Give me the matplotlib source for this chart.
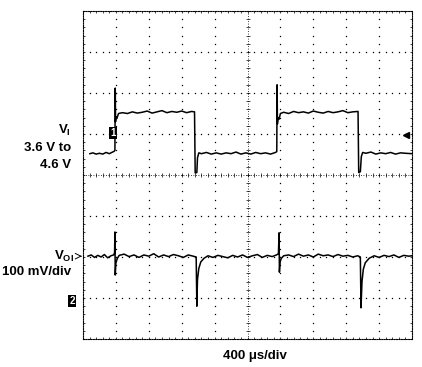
import numpy as np
import matplotlib
matplotlib.use('Agg')
from matplotlib import pyplot as plt

plt.rcParams['font.family'] = ['Liberation Sans', 'DejaVu Sans']
plt.rcParams['mathtext.fontset'] = 'custom'
plt.rcParams['mathtext.bf'] = 'Liberation Sans:bold'
plt.rcParams['mathtext.rm'] = 'Liberation Sans:bold'

# scope traces, x in divisions (400 us/div), y in divisions (0 = bottom, 8 = top)
vi_t = [0.21, 0.30, 0.40, 0.50, 0.60, 0.70, 0.80, 0.90, 0.95, 0.97, 0.98, 0.99, 1.00, 1.03,
        1.08, 1.20, 1.35, 1.50, 1.65, 1.80, 1.95, 2.10, 2.25, 2.40, 2.55, 2.70, 2.85, 3.00,
        3.15, 3.30, 3.39, 3.41, 3.46, 3.48, 3.52, 3.60, 3.75, 3.90, 4.05, 4.20, 4.35, 4.50,
        4.65, 4.80, 4.95, 5.10, 5.25, 5.40, 5.55, 5.70, 5.85, 5.89, 5.90, 5.91, 5.93, 5.96,
        6.00, 6.10, 6.25, 6.40, 6.55, 6.70, 6.85, 7.00, 7.15, 7.30, 7.45, 7.60, 7.75, 7.90,
        8.05, 8.20, 8.36, 8.38, 8.43, 8.46, 8.50, 8.60, 8.75, 8.90, 9.05, 9.20, 9.35, 9.50,
        9.65, 9.80, 10.0]
vi_v = [4.52, 4.54, 4.51, 4.53, 4.51, 4.55, 4.52, 4.56, 4.58, 4.60, 6.12, 5.30, 5.42, 5.38,
        5.50, 5.52, 5.50, 5.54, 5.51, 5.53, 5.56, 5.51, 5.54, 5.57, 5.52, 5.55, 5.53, 5.56,
        5.52, 5.55, 5.54, 4.05, 4.06, 4.42, 4.54, 4.52, 4.55, 4.51, 4.54, 4.51, 4.54, 4.52,
        4.56, 4.51, 4.54, 4.51, 4.55, 4.52, 4.54, 4.51, 4.55, 4.57, 6.20, 5.25, 5.40, 5.36,
        5.50, 5.53, 5.50, 5.55, 5.52, 5.54, 5.51, 5.56, 5.53, 5.51, 5.55, 5.52, 5.54, 5.57,
        5.52, 5.54, 5.55, 4.06, 4.08, 4.45, 4.55, 4.53, 4.56, 4.51, 4.54, 4.52, 4.55, 4.51,
        4.54, 4.53, 4.52]

vo_t = [0.15, 0.25, 0.35, 0.45, 0.55, 0.65, 0.75, 0.85, 0.93, 0.96, 0.97, 0.98, 1.00, 1.04,
        1.10, 1.25, 1.40, 1.55, 1.70, 1.85, 2.00, 2.15, 2.30, 2.45, 2.60, 2.75, 2.90, 3.05,
        3.20, 3.35, 3.44, 3.46, 3.48, 3.52, 3.58, 3.68, 3.80, 3.95, 4.10, 4.25, 4.40, 4.55,
        4.70, 4.85, 5.00, 5.15, 5.30, 5.45, 5.60, 5.75, 5.88, 5.94, 5.96, 5.97, 5.99, 6.03,
        6.10, 6.25, 6.40, 6.55, 6.70, 6.85, 7.00, 7.15, 7.30, 7.45, 7.60, 7.75, 7.90, 8.05,
        8.20, 8.35, 8.43, 8.45, 8.48, 8.52, 8.58, 8.70, 8.85, 9.00, 9.15, 9.30, 9.45, 9.60,
        9.75, 9.90, 10.0]
vo_v = [2.02, 2.05, 1.99, 2.04, 2.00, 2.06, 1.98, 2.03, 2.05, 2.10, 2.61, 1.56, 1.85, 1.96,
        2.04, 2.07, 2.01, 2.05, 1.99, 2.05, 2.02, 2.08, 2.00, 2.05, 2.01, 2.06, 2.03, 1.99,
        2.05, 2.02, 2.00, 0.80, 1.45, 1.72, 1.88, 1.97, 2.03, 1.99, 2.04, 2.01, 1.98, 2.04,
        2.00, 2.05, 1.99, 2.03, 2.06, 1.99, 2.04, 2.01, 2.05, 2.08, 2.59, 1.63, 1.88, 1.97,
        2.03, 2.05, 2.01, 2.07, 2.02, 2.05, 2.00, 2.07, 2.03, 2.05, 2.01, 2.06, 2.02, 2.04,
        2.00, 2.03, 2.00, 0.76, 1.40, 1.70, 1.86, 1.97, 2.03, 1.99, 2.04, 2.01, 2.05, 1.99,
        2.04, 2.02, 2.03]

fig = plt.figure(figsize=(4.22, 3.67), dpi=100)
ax = fig.add_axes([83 / 422, 28 / 367, 329 / 422, 328 / 367])
ax.set_xlim(0, 10)
ax.set_ylim(0, 8)

# dotted frame
for sp in ax.spines.values():
    sp.set_linestyle((0, (1, 1.2)))
    sp.set_linewidth(0.8)
ax.set_xticks([])
ax.set_yticks([])

# graticule: dotted grid
dots_x = np.arange(0, 10.01, 0.2)
dots_y = np.arange(0, 8.01, 0.2)
for gx in range(1, 10):
    if gx != 5:
        ax.plot([gx] * len(dots_y), dots_y, ls='none', marker='s', ms=0.9, color='black', mew=0)
for gy in range(1, 8):
    if gy != 4:
        ax.plot(dots_x, [gy] * len(dots_x), ls='none', marker='s', ms=0.9, color='black', mew=0)

# center cross with tick marks
ax.plot([5, 5], [0, 8], color='black', lw=0.6, ls=(0, (1, 2)))
ax.plot([0, 10], [4, 4], color='black', lw=0.6, ls=(0, (1, 2)))
ax.plot([5] * len(dots_y), dots_y, ls='none', marker='_', ms=3, mew=0.5, color='black')
ax.plot(dots_x, [4] * len(dots_x), ls='none', marker='|', ms=3, mew=0.5, color='black')
# edge ticks
ax.plot(dots_x, [8] * len(dots_x), ls='none', marker='|', ms=2.5, mew=0.5, color='black')
ax.plot(dots_x, [0] * len(dots_x), ls='none', marker='|', ms=2.5, mew=0.5, color='black')
ax.plot([10] * len(dots_y), dots_y, ls='none', marker='_', ms=2.5, mew=0.5, color='black')
ax.plot([0] * len(dots_y), dots_y, ls='none', marker='_', ms=2.5, mew=0.5, color='black')

# traces
ax.plot(vi_t, vi_v, color='black', lw=1.1)
ax.plot(vo_t, vo_v, color='black', lw=1.1)

# channel and trigger markers
ax.text(0.91, 5.02, '1', ha='center', va='center', fontsize=7, color='white',
        fontweight='bold', bbox=dict(boxstyle='square,pad=0.12', fc='black', ec='none'))
ax.text(-0.33, 0.93, '2', ha='center', va='center', fontsize=7, color='white',
        fontweight='bold', clip_on=False,
        bbox=dict(boxstyle='square,pad=0.12', fc='black', ec='none'))
ax.plot([9.82], [4.98], marker='<', ms=4, color='black', ls='none')
ax.annotate('', xy=(0.05, 2.02), xytext=(-0.15, 2.02),
            arrowprops=dict(arrowstyle='->', lw=0.7, color='black'), annotation_clip=False)

# labels
tk = dict(fontsize=9.5, fontweight='bold', ha='right', va='center')
fig.text(71 / 422, 1 - 130 / 367, r'V$_{\mathbf{I}}$', **tk)
fig.text(71 / 422, 1 - 148 / 367, '3.6 V to', **tk)
fig.text(71 / 422, 1 - 165 / 367, '4.6 V', **tk)
fig.text(74 / 422, 1 - 256 / 367, r'V$_{\mathbf{OI}}$', **tk)
fig.text(71 / 422, 1 - 272 / 367, '100 mV/div', **tk)
fig.text(255 / 422, 1 - 356 / 367, '400 μs/div', fontsize=9.5, fontweight='bold',
         ha='center', va='center')

fig.savefig('out.png', dpi=100)
